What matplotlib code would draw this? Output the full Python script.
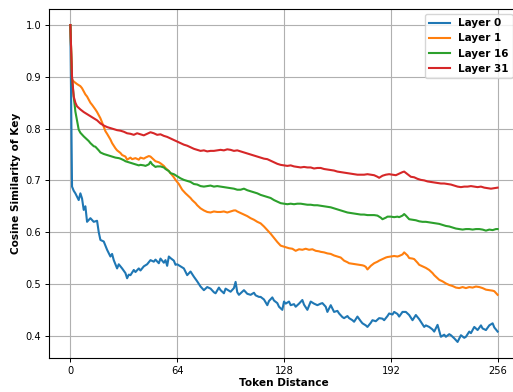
import matplotlib
matplotlib.use("Agg")
import matplotlib.pyplot as plt

# ---------------- data ----------------
layer0_t = [0, 1, 2, 3, 5, 6, 7, 8, 9, 10, 12, 14, 16, 17, 18, 20, 22, 24, 25, 26, 28, 29, 31, 33, 34, 35, 36,
            38, 39, 41, 42, 44, 46, 48, 50, 51, 53, 54, 56, 57, 58, 59, 60, 62, 63, 64, 66, 68, 70, 72, 74, 76,
            78, 80, 82, 84, 86, 87, 89, 90, 92, 93, 95, 96, 98, 99, 100, 101, 103, 104, 106, 108, 110, 111, 113,
            114, 116, 118, 119, 121, 122, 124, 125, 127, 128, 129, 131, 132, 134, 135, 137, 139, 140, 142, 144,
            146, 148, 150, 151, 153, 154, 156, 158, 160, 161, 163, 164, 166, 167, 169, 170, 172, 174, 175, 177,
            178, 180, 181, 183, 185, 187, 188, 190, 191, 193, 194, 196, 197, 199, 201, 202, 203, 205, 207, 209,
            210, 212, 213, 215, 217, 218, 220, 222, 224, 225, 227, 228, 230, 232, 234, 236, 237, 239, 240, 242,
            244, 246, 247, 249, 251, 253, 254, 256]
layer0_v = [1.0, 0.688, 0.680, 0.675, 0.662, 0.675, 0.665, 0.643, 0.650, 0.620, 0.627, 0.620, 0.622, 0.600,
            0.585, 0.582, 0.566, 0.553, 0.558, 0.546, 0.530, 0.538, 0.530, 0.521, 0.511, 0.518, 0.517, 0.527,
            0.523, 0.530, 0.526, 0.534, 0.538, 0.546, 0.543, 0.547, 0.540, 0.549, 0.541, 0.546, 0.535, 0.553,
            0.550, 0.545, 0.537, 0.538, 0.534, 0.530, 0.517, 0.524, 0.514, 0.505, 0.495, 0.488, 0.494, 0.491,
            0.484, 0.482, 0.493, 0.488, 0.482, 0.491, 0.487, 0.485, 0.492, 0.504, 0.484, 0.479, 0.485, 0.488,
            0.481, 0.479, 0.483, 0.478, 0.475, 0.475, 0.470, 0.459, 0.467, 0.474, 0.468, 0.463, 0.456, 0.450,
            0.466, 0.462, 0.466, 0.459, 0.461, 0.456, 0.462, 0.469, 0.460, 0.450, 0.466, 0.462, 0.459, 0.462,
            0.463, 0.456, 0.446, 0.459, 0.446, 0.448, 0.443, 0.436, 0.434, 0.438, 0.434, 0.430, 0.427, 0.437,
            0.428, 0.424, 0.420, 0.417, 0.425, 0.430, 0.428, 0.434, 0.433, 0.430, 0.438, 0.443, 0.441, 0.446,
            0.442, 0.437, 0.446, 0.446, 0.443, 0.440, 0.430, 0.440, 0.432, 0.427, 0.417, 0.420, 0.417, 0.412,
            0.408, 0.421, 0.398, 0.402, 0.398, 0.403, 0.401, 0.395, 0.388, 0.401, 0.396, 0.398, 0.408, 0.405,
            0.417, 0.411, 0.420, 0.414, 0.411, 0.420, 0.424, 0.416, 0.408]

layer1_t = [0, 1, 2, 4, 6, 7, 9, 10, 12, 13, 15, 16, 18, 19, 21, 22, 24, 25, 27, 28, 30, 31, 33, 34, 36, 37,
            39, 41, 42, 44, 45, 47, 48, 50, 51, 53, 54, 56, 57, 59, 60, 62, 63, 65, 67, 69, 70, 72, 73, 75, 76,
            78, 80, 82, 84, 86, 88, 90, 92, 94, 96, 98, 99, 100, 102, 104, 106, 108, 110, 112, 114, 116, 118,
            120, 122, 124, 126, 128, 129, 131, 133, 135, 137, 139, 141, 143, 145, 147, 149, 150, 152, 154, 156,
            158, 160, 162, 164, 166, 167, 169, 171, 173, 175, 176, 177, 178, 180, 182, 184, 185, 187, 189, 190,
            192, 194, 196, 197, 199, 200, 202, 203, 205, 206, 208, 209, 211, 213, 215, 217, 218, 220, 221, 223,
            225, 227, 229, 231, 233, 235, 237, 239, 241, 243, 245, 247, 249, 251, 253, 254, 256]
layer1_v = [1.0, 0.895, 0.891, 0.886, 0.882, 0.878, 0.866, 0.862, 0.850, 0.846, 0.837, 0.832, 0.820, 0.812,
            0.795, 0.790, 0.779, 0.772, 0.762, 0.758, 0.753, 0.749, 0.746, 0.740, 0.744, 0.741, 0.743, 0.740,
            0.744, 0.742, 0.744, 0.747, 0.746, 0.740, 0.737, 0.735, 0.733, 0.728, 0.724, 0.718, 0.714, 0.706,
            0.701, 0.693, 0.682, 0.675, 0.672, 0.666, 0.662, 0.656, 0.652, 0.646, 0.642, 0.639, 0.638, 0.640,
            0.639, 0.639, 0.640, 0.638, 0.640, 0.642, 0.642, 0.640, 0.637, 0.634, 0.631, 0.627, 0.624, 0.620,
            0.617, 0.611, 0.604, 0.597, 0.589, 0.581, 0.574, 0.572, 0.571, 0.569, 0.568, 0.564, 0.567, 0.566,
            0.568, 0.566, 0.567, 0.564, 0.563, 0.562, 0.561, 0.559, 0.558, 0.555, 0.553, 0.551, 0.545, 0.542,
            0.540, 0.539, 0.538, 0.537, 0.536, 0.535, 0.533, 0.528, 0.535, 0.540, 0.543, 0.545, 0.548, 0.551,
            0.552, 0.553, 0.554, 0.553, 0.554, 0.557, 0.561, 0.555, 0.550, 0.549, 0.548, 0.541, 0.537, 0.534,
            0.531, 0.527, 0.521, 0.517, 0.511, 0.508, 0.505, 0.501, 0.498, 0.496, 0.493, 0.492, 0.494, 0.492,
            0.494, 0.493, 0.495, 0.494, 0.492, 0.489, 0.488, 0.487, 0.486, 0.479]

layer16_t = [0, 1, 2, 3, 4, 5, 6, 8, 9, 11, 12, 14, 15, 17, 18, 20, 21, 23, 25, 27, 29, 30, 32, 33, 35, 36, 38,
             39, 41, 42, 44, 45, 47, 48, 49, 51, 52, 54, 56, 57, 59, 60, 62, 63, 65, 66, 68, 70, 72, 74, 76, 78,
             80, 82, 84, 86, 88, 90, 92, 94, 96, 98, 100, 102, 104, 106, 108, 110, 112, 114, 116, 118, 120, 122,
             124, 126, 128, 130, 132, 134, 136, 138, 140, 142, 144, 146, 148, 150, 152, 154, 156, 158, 160, 162,
             164, 166, 168, 170, 172, 174, 176, 178, 180, 182, 184, 186, 187, 189, 190, 192, 194, 196, 197, 199,
             200, 201, 203, 205, 207, 209, 211, 213, 215, 217, 219, 221, 223, 225, 227, 229, 231, 233, 235, 237,
             239, 241, 243, 245, 247, 249, 251, 253, 255, 256]
layer16_v = [1.0, 0.895, 0.862, 0.833, 0.815, 0.798, 0.792, 0.785, 0.782, 0.776, 0.772, 0.766, 0.765, 0.758,
             0.754, 0.751, 0.750, 0.748, 0.746, 0.744, 0.743, 0.742, 0.739, 0.737, 0.735, 0.734, 0.732, 0.731,
             0.729, 0.730, 0.729, 0.728, 0.731, 0.736, 0.731, 0.726, 0.727, 0.727, 0.725, 0.722, 0.718, 0.714,
             0.712, 0.710, 0.706, 0.704, 0.701, 0.699, 0.697, 0.693, 0.692, 0.689, 0.688, 0.689, 0.690, 0.688,
             0.689, 0.688, 0.687, 0.686, 0.685, 0.684, 0.682, 0.682, 0.684, 0.681, 0.679, 0.677, 0.675, 0.672,
             0.670, 0.668, 0.666, 0.662, 0.659, 0.656, 0.655, 0.654, 0.655, 0.654, 0.655, 0.655, 0.654, 0.653,
             0.653, 0.652, 0.652, 0.651, 0.650, 0.649, 0.648, 0.646, 0.644, 0.642, 0.640, 0.638, 0.637, 0.636,
             0.635, 0.634, 0.634, 0.633, 0.633, 0.633, 0.632, 0.628, 0.625, 0.628, 0.630, 0.630, 0.629, 0.630,
             0.629, 0.632, 0.635, 0.632, 0.625, 0.624, 0.623, 0.621, 0.620, 0.620, 0.619, 0.618, 0.617, 0.616,
             0.614, 0.612, 0.611, 0.609, 0.607, 0.606, 0.605, 0.606, 0.606, 0.605, 0.606, 0.606, 0.605, 0.603,
             0.605, 0.604, 0.606, 0.606]

layer31_t = [0, 1, 2, 3, 4, 6, 8, 10, 12, 14, 16, 18, 20, 22, 24, 26, 28, 30, 32, 34, 36, 38, 40, 42, 44, 46,
             48, 50, 52, 54, 56, 58, 60, 62, 64, 66, 68, 70, 72, 74, 76, 78, 80, 82, 84, 86, 88, 90, 92, 94, 96,
             98, 100, 102, 104, 106, 108, 110, 112, 114, 116, 118, 120, 122, 124, 126, 128, 130, 132, 134, 136,
             138, 140, 142, 144, 146, 148, 150, 152, 154, 156, 158, 160, 162, 164, 166, 168, 170, 172, 174, 176,
             178, 180, 182, 184, 185, 187, 189, 191, 193, 195, 197, 199, 200, 202, 204, 206, 208, 210, 212, 214,
             216, 218, 220, 222, 224, 226, 228, 230, 232, 234, 236, 238, 240, 242, 244, 246, 248, 250, 252, 254,
             256]
layer31_v = [1.0, 0.900, 0.862, 0.850, 0.843, 0.837, 0.832, 0.828, 0.824, 0.820, 0.816, 0.810, 0.806, 0.803,
             0.801, 0.799, 0.797, 0.796, 0.794, 0.791, 0.790, 0.788, 0.791, 0.789, 0.787, 0.790, 0.793, 0.791,
             0.788, 0.789, 0.786, 0.784, 0.781, 0.778, 0.775, 0.772, 0.769, 0.767, 0.764, 0.761, 0.759, 0.757,
             0.758, 0.756, 0.757, 0.757, 0.758, 0.759, 0.758, 0.760, 0.759, 0.757, 0.758, 0.756, 0.754, 0.752,
             0.750, 0.748, 0.746, 0.744, 0.742, 0.741, 0.738, 0.735, 0.732, 0.730, 0.729, 0.728, 0.729, 0.727,
             0.726, 0.725, 0.726, 0.725, 0.725, 0.723, 0.724, 0.724, 0.722, 0.721, 0.720, 0.719, 0.717, 0.716,
             0.715, 0.714, 0.713, 0.712, 0.711, 0.711, 0.711, 0.712, 0.711, 0.710, 0.707, 0.705, 0.709, 0.711,
             0.712, 0.711, 0.710, 0.713, 0.716, 0.717, 0.712, 0.707, 0.706, 0.703, 0.701, 0.700, 0.698, 0.697,
             0.696, 0.695, 0.694, 0.694, 0.693, 0.692, 0.690, 0.688, 0.687, 0.688, 0.688, 0.689, 0.688, 0.687,
             0.688, 0.686, 0.685, 0.684, 0.685, 0.686]

series_labels = ["Layer 0", "Layer 1", "Layer 16", "Layer 31"]
x_ticks = [0, 64, 128, 192, 256]
y_ticks = [0.4, 0.5, 0.6, 0.7, 0.8, 0.9, 1.0]

# ---------------- figure ----------------
W, H = 513, 392
fig = plt.figure(figsize=(W / 100, H / 100), dpi=100)
ax = fig.add_axes([49 / W, 34 / H, (519 - 49) / W, (358 - 9) / H])

colors = ["#1f77b4", "#ff7f0e", "#2ca02c", "#d62728"]
series = [(layer0_t, layer0_v), (layer1_t, layer1_v), (layer16_t, layer16_v), (layer31_t, layer31_v)]
for (t, v), lab, c in zip(series, series_labels, colors):
    ax.plot(t, v, color=c, lw=1.5, label=lab)

ax.set_xlim(-12.8, 268.8)
ax.set_ylim(0.357, 1.031)
ax.set_xticks(x_ticks)
ax.set_xticklabels([str(x) for x in x_ticks])
ax.set_yticks(y_ticks)
ax.set_yticklabels([f"{y:.1f}" for y in y_ticks])
ax.tick_params(labelsize=7.1, length=3, width=0.7, pad=2.5)
ax.grid(True, color="#b0b0b0", lw=0.8)
for s in ax.spines.values():
    s.set_linewidth(0.8)

ax.set_xlabel("Token Distance", fontsize=7.6, fontweight="bold", labelpad=1.5)
ax.set_ylabel("Cosine Similarity of Key", fontsize=7.6, fontweight="bold", labelpad=3.5)

ax.legend(loc="upper right", bbox_to_anchor=(512.5 / W, 1 - 14 / H), bbox_transform=fig.transFigure,
          borderaxespad=0, prop={"size": 7.5, "weight": "bold"}, handlelength=2.0)

fig.savefig("out.png", dpi=100)
